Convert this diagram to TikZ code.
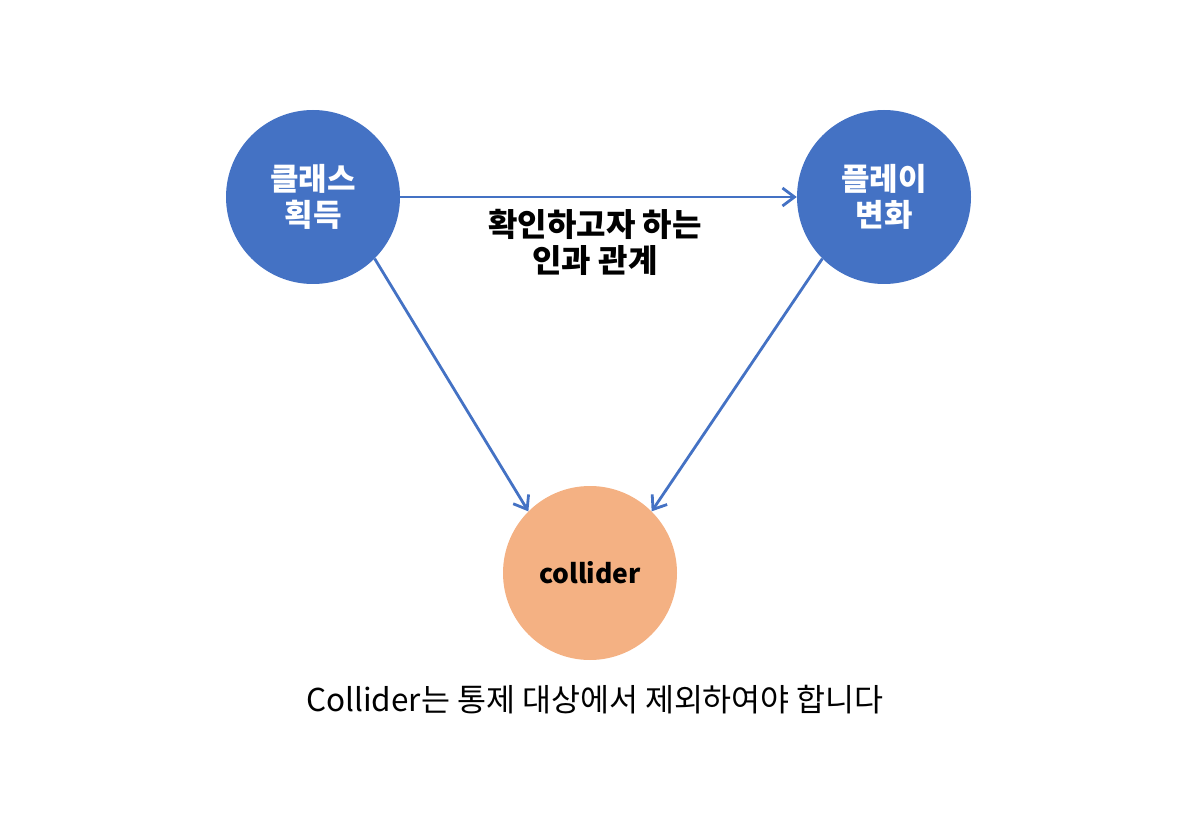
\documentclass[tikz,border=0pt]{standalone}
\usepackage{fontspec}
\setmainfont{Noto Sans CJK KR}
\usepackage{xcolor}
\usepackage{tikz}
\usetikzlibrary{arrows.meta}

\definecolor{nodeblue}{HTML}{4472C4}
\definecolor{nodeorange}{HTML}{F4B183}

\begin{document}
\begin{tikzpicture}[x=1pt,y=-1pt,
            var/.style={shape=circle, minimum size=174pt, inner sep=0pt, fill=nodeblue, text=white, font=\fontsize{31}{36}\selectfont\bfseries, align=center},
            coll/.style={shape=circle, minimum size=174pt, inner sep=0pt, fill=nodeorange, text=black, font=\fontsize{26.5}{30}\selectfont\bfseries},
            edge/.style={draw=nodeblue, line width=2.8pt, -{Straight Barb[length=12pt,width=18pt,line width=2.8pt]}}]
				\useasboundingbox (0,0) rectangle (1192,821);
				\node[var] (klass) at (313,197) {클래스\\획득};
				\node[var] (play) at (884,197) {플레이\\변화};
				\node[coll] (collider) at (590,573) {collider};

				\draw[edge] (klass) -- (play);
				\draw[edge] (klass.-45) -- (collider.135);
				\draw[edge] (play.-135) -- (collider.45);

				\node[font=\fontsize{32}{36}\selectfont\bfseries, align=center] (causal) at (595,242) {확인하고자 하는\\인과 관계};
				\node[font=\fontsize{31.5}{36}\selectfont] (note) at (595,700) {Collider는 통제 대상에서 제외하여야 합니다};
 		\end{tikzpicture}
\end{document}
